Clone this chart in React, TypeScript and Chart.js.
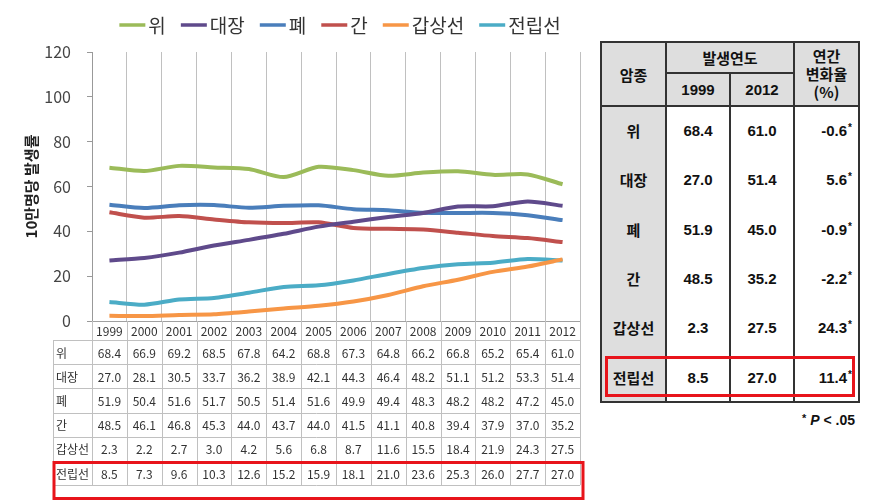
import React, { useEffect, useRef } from 'react';
import { Chart, registerables } from 'chart.js';

Chart.register(...registerables);

const years = ['1999', '2000', '2001', '2002', '2003', '2004', '2005', '2006', '2007', '2008', '2009', '2010', '2011', '2012'];
const cancers = ['위', '대장', '폐', '간', '갑상선', '전립선'];
const stomach = [68.4, 66.9, 69.2, 68.5, 67.8, 64.2, 68.8, 67.3, 64.8, 66.2, 66.8, 65.2, 65.4, 61.0];
const colorectal = [27.0, 28.1, 30.5, 33.7, 36.2, 38.9, 42.1, 44.3, 46.4, 48.2, 51.1, 51.2, 53.3, 51.4];
const lung = [51.9, 50.4, 51.6, 51.7, 50.5, 51.4, 51.6, 49.9, 49.4, 48.3, 48.2, 48.2, 47.2, 45.0];
const liver = [48.5, 46.1, 46.8, 45.3, 44.0, 43.7, 44.0, 41.5, 41.1, 40.8, 39.4, 37.9, 37.0, 35.2];
const thyroid = [2.3, 2.2, 2.7, 3.0, 4.2, 5.6, 6.8, 8.7, 11.6, 15.5, 18.4, 21.9, 24.3, 27.5];
const prostate = [8.5, 7.3, 9.6, 10.3, 12.6, 15.2, 15.9, 18.1, 21.0, 23.6, 25.3, 26.0, 27.7, 27.0];
const annualChange = ['-0.6', '5.6', '-0.9', '-2.2', '24.3', '11.4'];
const yMin = 0;
const yMax = 120;
const yStep = 20;
const yTitle = '10만명당 발생률';

const seriesValues = [stomach, colorectal, lung, liver, thyroid, prostate];
const seriesColors = ['#9bbb59', '#5f4a8b', '#4a7ebb', '#c0504d', '#f79646', '#4bacc6'];

const KFONT = '"Noto Sans CJK KR", "Noto Sans", sans-serif';

const legendPlugin = {
  id: 'topLegend',
  afterDraw(chart: any) {
    const { ctx, chartArea } = chart;
    ctx.save();
    ctx.font = `19px ${KFONT}`;
    const items = chart.data.datasets.map((d: any) => ({
      label: d.label,
      color: d.borderColor,
      tw: ctx.measureText(d.label).width,
    }));
    const lineW = 26;
    const gapText = 3;
    const gapItem = 15;
    const total = items.reduce((s: number, it: any) => s + lineW + gapText + it.tw, 0) + gapItem * (items.length - 1);
    let x = (chartArea.left + chartArea.right) / 2 + 4 - total / 2;
    const y = 25;
    ctx.textBaseline = 'middle';
    ctx.textAlign = 'left';
    for (const it of items) {
      ctx.strokeStyle = it.color;
      ctx.lineWidth = 3.5;
      ctx.beginPath();
      ctx.moveTo(x, y);
      ctx.lineTo(x + lineW, y);
      ctx.stroke();
      ctx.fillStyle = '#333';
      ctx.fillText(it.label, x + lineW + gapText, y + 1);
      x += lineW + gapText + it.tw + gapItem;
    }
    ctx.restore();
  },
};

const tablePlugin = {
  id: 'dataTable',
  afterDraw(chart: any) {
    const { ctx, chartArea } = chart;
    const xs = chart.scales.x;
    const n = years.length;
    const bounds: number[] = [];
    for (let i = 0; i <= n; i++) {
      if (i === 0) bounds.push(chartArea.left);
      else if (i === n) bounds.push(chartArea.right);
      else bounds.push((xs.getPixelForValue(i - 1) + xs.getPixelForValue(i)) / 2);
    }
    const top = chartArea.bottom;
    const headBottom = top + 19;
    const rowH = 24.2;
    const labelLeft = 53;
    const bottom = headBottom + rowH * cancers.length;
    const crisp = (v: number) => Math.round(v) + 0.5;

    ctx.save();
    ctx.strokeStyle = '#c0c0c0';
    ctx.lineWidth = 1;
    ctx.beginPath();
    for (const b of bounds) {
      ctx.moveTo(crisp(b), top);
      ctx.lineTo(crisp(b), bottom);
    }
    ctx.moveTo(crisp(labelLeft), headBottom);
    ctx.lineTo(crisp(labelLeft), bottom);
    for (let k = 0; k <= cancers.length; k++) {
      const yy = crisp(headBottom + rowH * k);
      ctx.moveTo(labelLeft, yy);
      ctx.lineTo(chartArea.right, yy);
    }
    ctx.stroke();

    ctx.font = `12px ${KFONT}`;
    ctx.fillStyle = '#333';
    ctx.textBaseline = 'middle';
    cancers.forEach((name, r) => {
      const cy = headBottom + rowH * r + rowH / 2 + 1;
      ctx.textAlign = 'left';
      ctx.fillText(name, labelLeft + 3, cy);
      ctx.textAlign = 'center';
      seriesValues[r].forEach((v, i) => {
        ctx.fillText(v.toFixed(1), xs.getPixelForValue(i), cy);
      });
    });

    // red highlight box around the last row
    const rTop = headBottom + rowH * (cancers.length - 1) + 1.5;
    ctx.strokeStyle = '#e8141b';
    ctx.lineWidth = 3;
    ctx.strokeRect(labelLeft + 1, rTop, chartArea.right + 2 - labelLeft, 500 - rTop - 1.5);
    ctx.restore();
  },
};

function ChartPanel() {
  const ref = useRef<HTMLCanvasElement>(null);
  useEffect(() => {
    if (!ref.current) return;
    const chart = new Chart(ref.current, {
      type: 'line',
      data: {
        labels: years,
        datasets: cancers.map((c, i) => ({
          label: c,
          data: seriesValues[i],
          borderColor: seriesColors[i],
          backgroundColor: seriesColors[i],
          borderWidth: 4,
          pointRadius: 0,
          pointHoverRadius: 0,
          tension: 0.25,
          fill: false,
        })),
      },
      options: {
        responsive: false,
        animation: false,
        devicePixelRatio: 1,
        layout: { padding: { top: 52, left: 0, right: 15, bottom: 0 } },
        plugins: {
          legend: { display: false },
          tooltip: { enabled: false },
        },
        scales: {
          x: {
            type: 'category',
            offset: true,
            afterFit(scale: any) {
              scale.height = 181;
            },
            grid: { offset: true, color: '#c0c0c0', drawTicks: false, lineWidth: 1 },
            border: { display: true, color: '#a0a0a0' },
            ticks: {
              padding: 3,
              maxRotation: 0,
              autoSkip: false,
              font: { family: KFONT, size: 12 },
              color: '#333',
            },
          },
          y: {
            min: yMin,
            max: yMax,
            afterFit(scale: any) {
              scale.width = 92;
            },
            ticks: {
              stepSize: yStep,
              padding: 16,
              font: { family: KFONT, size: 16 },
              color: '#444',
            },
            grid: { drawOnChartArea: false, drawTicks: true, tickLength: 5, color: '#999' },
            border: { display: true, color: '#999' },
            title: {
              display: true,
              text: yTitle,
              font: { family: KFONT, size: 15, weight: 'bold' },
              color: '#222',
              padding: { top: 22, bottom: 0 },
            },
          },
        },
      },
      plugins: [legendPlugin, tablePlugin],
    } as any);
    return () => chart.destroy();
  }, []);
  return <canvas ref={ref} width={595} height={502} style={{ position: 'absolute', left: 0, top: 0 }} />;
}

const TB = { left: 601, top: 42, w: 258, h: 360 };
const colX = [0, 65, 129, 193, 258];
const hdr1 = 31;
const hdr2 = 64;
const gray = '#dedede';
const lineC = '#333';

function Cell(props: { x: number; y: number; w: number; h: number; align?: string; pr?: number; children: any; style?: any }) {
  const { x, y, w, h, align, pr, children, style } = props;
  return (
    <div
      style={{
        position: 'absolute',
        left: x,
        top: y,
        width: w,
        height: h,
        display: 'flex',
        alignItems: 'center',
        justifyContent: align === 'right' ? 'flex-end' : 'center',
        paddingRight: pr || 0,
        boxSizing: 'border-box',
        textAlign: 'center',
        ...style,
      }}
    >
      {children}
    </div>
  );
}

function SideTable() {
  const bodyH = (TB.h - hdr2) / cancers.length;
  const star = <span style={{ fontSize: 10, position: 'relative', top: -5, marginLeft: 1 }}>*</span>;
  return (
    <div
      style={{
        position: 'absolute',
        left: TB.left,
        top: TB.top,
        width: TB.w,
        height: TB.h,
        fontFamily: '"Liberation Sans", "Noto Sans CJK KR", sans-serif',
        fontWeight: 'bold',
        fontSize: 15,
        color: '#111',
      }}
    >
      <div style={{ position: 'absolute', left: 0, top: 0, width: TB.w, height: hdr2, background: gray }} />
      <div style={{ position: 'absolute', left: 0, top: hdr2, width: colX[1], height: TB.h - hdr2, background: gray }} />
      <div style={{ position: 'absolute', left: colX[1] - 1, top: 0, width: 2, height: TB.h, background: lineC }} />
      <div style={{ position: 'absolute', left: colX[2] - 1, top: hdr1, width: 2, height: TB.h - hdr1, background: lineC }} />
      <div style={{ position: 'absolute', left: colX[3] - 1, top: 0, width: 2, height: TB.h, background: lineC }} />
      <div style={{ position: 'absolute', left: colX[1], top: hdr1 - 1, width: colX[3] - colX[1], height: 2, background: lineC }} />
      <div style={{ position: 'absolute', left: 0, top: hdr2 - 1, width: TB.w, height: 2, background: lineC }} />
      <div style={{ position: 'absolute', left: -1, top: -1, width: TB.w + 2, height: TB.h + 2, border: `2px solid ${lineC}`, boxSizing: 'border-box' }} />
      <Cell x={0} y={0} w={colX[1]} h={hdr2} style={{ fontFamily: KFONT }}>암종</Cell>
      <Cell x={colX[1]} y={0} w={colX[3] - colX[1]} h={hdr1} style={{ fontFamily: KFONT }}>발생연도</Cell>
      <Cell x={colX[1]} y={hdr1} w={colX[2] - colX[1]} h={hdr2 - hdr1}>{years[0]}</Cell>
      <Cell x={colX[2]} y={hdr1} w={colX[3] - colX[2]} h={hdr2 - hdr1}>{years[years.length - 1]}</Cell>
      <Cell x={colX[3]} y={0} w={colX[4] - colX[3]} h={hdr2} style={{ fontFamily: KFONT, lineHeight: '18px' }}>
        <div>연간<br />변화율<br />(%)</div>
      </Cell>
      {cancers.map((c, r) => {
        const y = hdr2 + bodyH * r;
        const vals = seriesValues[r];
        return (
          <React.Fragment key={c}>
            <Cell x={0} y={y} w={colX[1]} h={bodyH} style={{ fontFamily: KFONT }}>{c}</Cell>
            <Cell x={colX[1]} y={y} w={colX[2] - colX[1]} h={bodyH}>{vals[0].toFixed(1)}</Cell>
            <Cell x={colX[2]} y={y} w={colX[3] - colX[2]} h={bodyH}>{vals[vals.length - 1].toFixed(1)}</Cell>
            <Cell x={colX[3]} y={y} w={colX[4] - colX[3]} h={bodyH} align="right" pr={7}>
              <span>{annualChange[r]}{star}</span>
            </Cell>
          </React.Fragment>
        );
      })}
      <div
        style={{
          position: 'absolute',
          left: 4,
          top: hdr2 + bodyH * 5 + 3,
          width: TB.w - 8,
          height: bodyH - 8,
          border: '3px solid #e8141b',
          boxSizing: 'border-box',
        }}
      />
      <div
        style={{
          position: 'absolute',
          right: 4,
          top: TB.h + 10,
          fontSize: 14,
          fontFamily: '"Liberation Sans", sans-serif',
          fontWeight: 'bold',
          whiteSpace: 'nowrap',
        }}
      >
        <span style={{ fontSize: 11, position: 'relative', top: -3 }}>*</span> <i>P</i> &lt; .05
      </div>
    </div>
  );
}

export default function App() {
  return (
    <div style={{ position: 'absolute', left: 0, top: 0, width: 870, height: 502, background: '#fff', overflow: 'hidden' }}>
      <ChartPanel />
      <SideTable />
    </div>
  );
}
